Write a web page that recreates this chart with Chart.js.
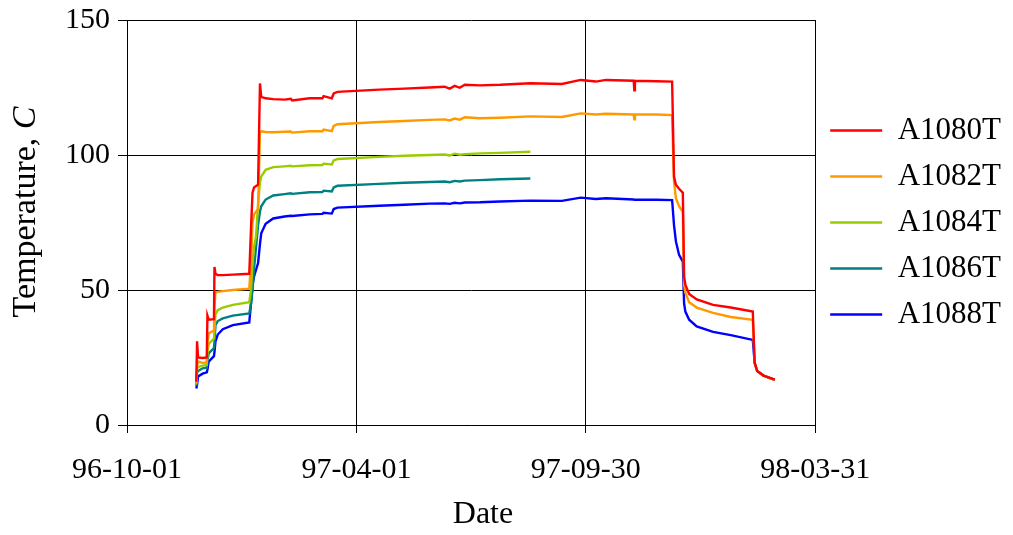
<!DOCTYPE html>
<html>
<head>
<meta charset="utf-8">
<script src="https://cdn.jsdelivr.net/npm/chart.js@4.4.1/dist/chart.umd.min.js"></script>
<style>
  html, body { margin: 0; padding: 0; background: #ffffff; }
  #wrap { width: 1013px; height: 535px; }
</style>
</head>
<body>
<div id="wrap"><canvas id="chart" width="1013" height="535"></canvas></div>
<script>
// x axis runs in days counted from 96-10-01
const tickDays = [0, 182, 364, 546];
const tickLabels = ['96-10-01', '97-04-01', '97-09-30', '98-03-31'];
const seriesNames = ['A1080T', 'A1082T', 'A1084T', 'A1086T', 'A1088T'];
const seriesColors = ['#FF0000', '#FF9900', '#99CC00', '#008080', '#0000FF'];
const xTitle = 'Date';
const yTitleText = 'Temperature, ';
const yTitleUnit = 'C';

const days = [55.0, 55.6, 56.4, 60, 63.3, 63.8, 64.8, 69.0, 69.4, 70.2,
  72, 76, 84, 97, 98.4, 99.6, 100.8, 102.4, 104, 105.5,
  106.5, 110, 116, 125, 130, 131, 145, 155, 156, 162.5,
  164, 167, 200, 220, 240, 252, 256, 260, 264, 268,
  280, 296, 320, 345, 360, 372, 380, 402, 402.5, 403,
  420, 432.5, 434, 435.5, 438, 441, 442, 443, 446, 452,
  465, 479, 496.5, 498, 500, 505, 514];

const a1080 = [16, 31, 25, 24.8, 25, 40.5, 39, 39.2, 58.5, 56,
  55.5, 55.5, 55.7, 56, 73, 86, 88, 88.5, 89, 126.5,
  121.5, 121, 120.7, 120.5, 120.8, 120.2, 121, 121, 121.8, 121,
  122.8, 123.4, 124.2, 124.6, 125, 125.3, 124.6, 125.6, 124.9, 126,
  125.8, 126, 126.6, 126.3, 127.8, 127.2, 127.8, 127.5, 124, 127.5,
  127.3, 127.2, 92, 89, 87.5, 86, 55, 52, 48.5, 46.5,
  44.5, 43.5, 42, 23, 20, 18.3, 16.8];

const a1082 = [15.5, 22, 23.5, 23, 23.2, 30, 34, 35, 44, 49,
  49.3, 49.6, 50, 50.5, 60, 75, 78, 79, 80, 108.5,
  108.8, 108.5, 108.4, 108.6, 108.7, 108.3, 108.8, 108.8, 109.4, 108.8,
  110.8, 111.4, 112.2, 112.6, 113, 113.2, 112.8, 113.5, 113.1, 114,
  113.6, 113.8, 114.3, 114.1, 115.4, 115, 115.3, 115, 113.2, 115,
  115, 114.8, 90, 84, 81, 79, 52, 49, 45.5, 43.5,
  41.5, 40, 39, 23, 20, 18.3, 16.6];

const a1084 = [15, 21, 21.5, 22, 22.2, 27, 30, 32, 35, 41,
  42.5, 43.5, 44.5, 45.5, 50, 60, 66, 70, 82, 90,
  92, 94.5, 95.5, 95.8, 96, 95.8, 96.2, 96.3, 96.8, 96.5,
  98, 98.5, 99.3, 99.7, 100, 100.2, 99.8, 100.5, 100.1, 100.3,
  100.6, 100.8, 101.2];

const a1086 = [14.5, 19.5, 20, 21, 21.2, 24, 26.5, 28.5, 31, 37,
  38.5, 39.5, 40.5, 41.3, 45, 50, 58, 66, 74, 79,
  81, 83.5, 85, 85.5, 85.8, 85.6, 86.2, 86.3, 86.8, 86.5,
  88, 88.6, 89.3, 89.7, 90, 90.2, 89.9, 90.4, 90.2, 90.5,
  90.7, 91, 91.3];

const a1088 = [13.5, 15, 18, 19, 19.5, 20.5, 23.5, 25.5, 27, 31,
  33.5, 35.5, 37, 38, 45, 52, 55, 57.5, 60, 67,
  71, 74.5, 76.5, 77.2, 77.5, 77.4, 78, 78.2, 78.6, 78.3,
  80, 80.5, 81.2, 81.6, 82, 82.1, 81.9, 82.3, 82.1, 82.4,
  82.5, 82.8, 83.1, 83, 84.2, 83.7, 84, 83.5, 83.4, 83.5,
  83.4, 83.3, 74, 68, 63, 60.5, 45, 42, 39, 36.5,
  34.5, 33.3, 31.5, 23, 20, 18.3, 16.7];

const seriesValues = [a1080, a1082, a1084, a1086, a1088];

const FONT = '"Liberation Serif", "Times New Roman", serif';

const datasets = seriesNames.map((name, k) => ({
  label: name,
  data: seriesValues[k].map((v, i) => ({ x: days[i], y: v })),
  borderColor: seriesColors[k],
  backgroundColor: seriesColors[k],
  borderWidth: 2.4,
  pointRadius: 0,
  tension: 0,
  fill: false
}));

// axis titles: the vertical one carries an italic unit letter
const axisTitlePlugin = {
  id: 'axisTitlePlugin',
  afterDraw(chart) {
    const c = chart.ctx;
    c.save();
    c.fillStyle = '#000';
    c.textBaseline = 'middle';

    // "Date" under the tick labels
    c.font = '32px ' + FONT;
    c.textAlign = 'center';
    c.fillText(xTitle, 483, 515);

    // rotated y title
    c.translate(26, 212);
    c.rotate(-Math.PI / 2);
    c.font = '34px ' + FONT;
    const wa = c.measureText(yTitleText).width;
    c.font = 'italic 34px ' + FONT;
    const wb = c.measureText(yTitleUnit).width;
    const start = -(wa + wb) / 2;
    c.textAlign = 'left';
    c.font = '34px ' + FONT;
    c.fillText(yTitleText, start, 0);
    c.font = 'italic 34px ' + FONT;
    c.fillText(yTitleUnit, start + wa, 0);
    c.restore();
  }
};

new Chart(document.getElementById('chart'), {
  type: 'line',
  data: { datasets },
  plugins: [axisTitlePlugin],
  options: {
    responsive: false,
    animation: false,
    events: [],
    layout: { padding: { top: 20, right: 2, bottom: 0, left: 0 } },
    plugins: {
      legend: {
        position: 'right',
        fullSize: false,
        align: 'center',
        labels: {
          usePointStyle: true,
          pointStyle: 'line',
          pointStyleWidth: 52,
          padding: 15,
          color: '#000',
          font: { family: FONT, size: 31, lineHeight: 1.03 }
        }
      },
      tooltip: { enabled: false }
    },
    scales: {
      x: {
        type: 'linear',
        min: tickDays[0],
        max: tickDays[tickDays.length - 1],
        afterBuildTicks: (s) => { s.ticks = tickDays.map(v => ({ value: v })); },
        afterFit: (s) => { s.height = 110; },
        ticks: {
          autoSkip: false,
          maxRotation: 0,
          padding: 19,
          color: '#000',
          font: { family: FONT, size: 30 },
          callback: (v) => tickLabels[tickDays.indexOf(v)]
        },
        grid: { color: '#000', lineWidth: 1, tickLength: 8 },
        border: { color: '#000', width: 1 }
      },
      y: {
        min: 0,
        max: 150,
        afterFit: (s) => { s.width = 127; s.paddingTop = 0; s.paddingBottom = 0; },
        ticks: {
          stepSize: 50,
          padding: 8,
          color: '#000',
          font: { family: FONT, size: 30 }
        },
        grid: { color: '#000', lineWidth: 1, tickLength: 9 },
        border: { color: '#000', width: 1 }
      }
    }
  }
});
</script>
</body>
</html>
